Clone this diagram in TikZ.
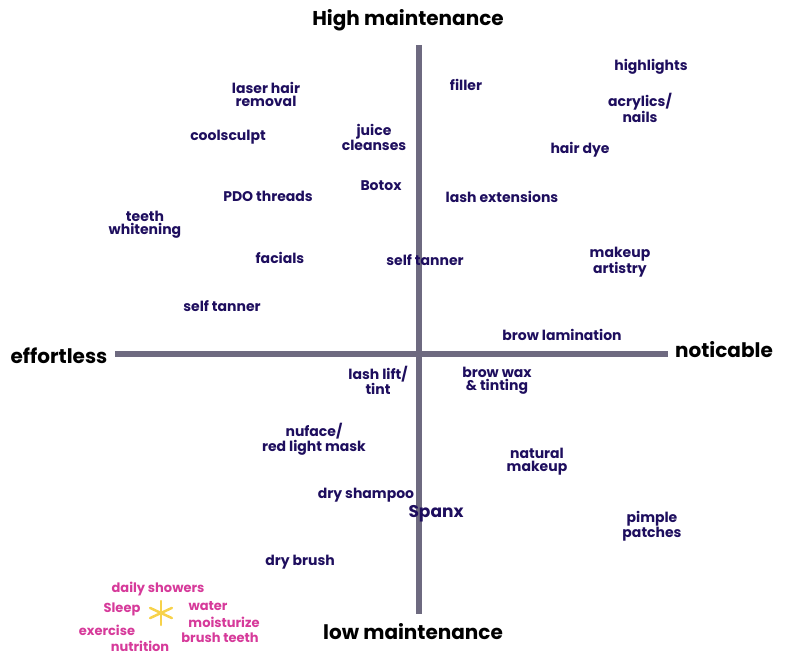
\documentclass[tikz,border=0pt]{standalone}
\usepackage{fontspec}
\usetikzlibrary{calc}
\setmainfont{Poppins}
\definecolor{axisgray}{HTML}{6E6A80}
\definecolor{ink}{HTML}{1E0E5E}
\definecolor{pinkink}{HTML}{D63A9A}
\definecolor{sunny}{HTML}{F7D24A}
\begin{document}
\begin{tikzpicture}[x=1pt,y=-1pt,
  item/.style={text=ink,align=center,inner sep=0pt,font=\bfseries\fontsize{14}{13}\selectfont},
  axislabel/.style={text=black,inner sep=0pt,font=\bfseries\fontsize{20}{20}\selectfont},
  pinkitem/.style={text=pinkink,inner sep=0pt,font=\bfseries\fontsize{13}{13}\selectfont},
  axisline/.style={draw=axisgray,line width=5.5pt}]
\useasboundingbox (0,0) rectangle (792,666);
\coordinate (top) at (419,45);
\coordinate (bot) at (419,614);
\coordinate (lft) at (115,354);
\coordinate (rgt) at (668,354);
\draw[axisline] (lft) -- (rgt);
\draw[axisline] (top) -- (bot);
\node[axislabel] (hi) at (408,20) {High maintenance};
\node[axislabel] (lo) at (413,632) {low maintenance};
\node[axislabel] (ef) at (59,356) {effortless};
\node[axislabel] (no) at (724,350) {noticable};
% upper left
\node[item] (laser) at (266,94) {laser hair\\removal};
\node[item] (cool) at (228,137) {coolsculpt};
\node[item] (juice) at (374,137) {juice\\cleanses};
\node[item] (botox) at (381,186) {Botox};
\node[item] (pdo) at (268,196) {PDO threads};
\node[item] (teeth) at (145,225) {teeth\\whitening};
\node[item] (facials) at (280,258) {facials};
\node[item] (tanl) at (222,306) {self tanner};
% upper right
\node[item] (filler) at (466,85) {filler};
\node[item] (highl) at (651,67) {highlights};
\node[item] (acry) at (640,108) {acrylics/\\nails};
\node[item] (dye) at (580,150) {hair dye};
\node[item] (lashx) at (502,197) {lash extensions};
\node[item] (tanc) at (425,260) {self tanner};
\node[item] (mua) at (620,262) {makeup\\artistry};
\node[item] (browl) at (562,335) {brow lamination};
% lower
\node[item] (lift) at (378,380) {lash lift/\\tint};
\node[item] (browx) at (497,381) {brow wax\\\& tinting};
\node[item] (nuface) at (314,439) {nuface/\\red light mask};
\node[item] (nat) at (537,462) {natural\\makeup};
\node[item] (dshamp) at (366,495) {dry shampoo};
\node[item,font=\bfseries\fontsize{17}{17}\selectfont] (spanx) at (436,514) {Spanx};
\node[item] (pimple) at (652,526) {pimple\\patches};
\node[item] (dbrush) at (300,562) {dry brush};
% pink cluster
\node[pinkitem] (showers) at (158,589) {daily showers};
\node[pinkitem] (sleep) at (122,609) {Sleep};
\node[pinkitem] (exer) at (107,630) {exercise};
\node[pinkitem] (nutri) at (140,646) {nutrition};
\node[pinkitem] (water) at (208,606) {water};
\node[pinkitem] (moist) at (224,622) {moisturize};
\node[pinkitem] (brusht) at (220,638) {brush teeth};
\coordinate (star) at (161,613);
\foreach \a in {90,25,155} {
  \draw[sunny,line width=2.5pt,line cap=round] ($(star)+(\a:12)$) -- ($(star)+(\a+180:12)$);
}
\end{tikzpicture}
\end{document}
